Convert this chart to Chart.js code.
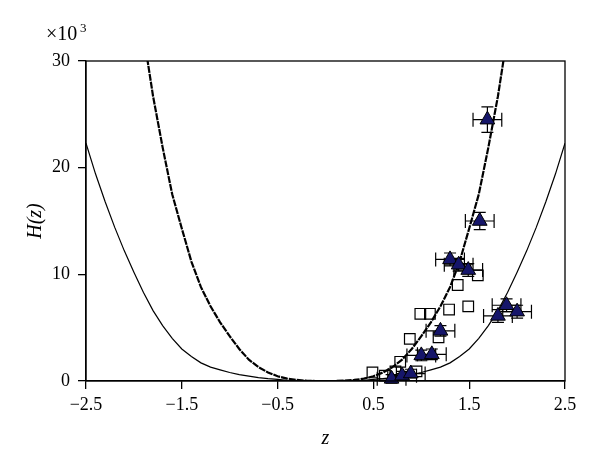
<!DOCTYPE html>
<html>
<head>
<meta charset="utf-8">
<script src="https://cdn.jsdelivr.net/npm/chart.js@4/dist/chart.umd.min.js"></script>
<style>
  html, body { margin: 0; padding: 0; background: #fff; }
</style>
</head>
<body>
<canvas id="c" width="600" height="460"></canvas>
<script>
// tick labels
const xTicks = [-2.5, -1.5, -0.5, 0.5, 1.5, 2.5];
const yTicks = [0, 10, 20, 30];

// outer model curve (thin)
const outerZ = [-2.5, -2.4, -2.3, -2.2, -2.1, -2.0, -1.9, -1.8, -1.7, -1.6, -1.5, -1.4, -1.3, -1.2, -1.1, -1.0, -0.9, -0.8, -0.7, -0.6, -0.5, -0.4, -0.3, -0.2, -0.1, 0.0,
                0.1, 0.2, 0.3, 0.4, 0.5, 0.6, 0.7, 0.8, 0.9, 1.0, 1.1, 1.2, 1.3, 1.4, 1.5, 1.6, 1.7, 1.8, 1.9, 2.0, 2.1, 2.2, 2.3, 2.4, 2.5];
const outerH = [22.3, 19.4, 16.8, 14.4, 12.2, 10.2, 8.3, 6.6, 5.2, 4.0, 3.0, 2.3, 1.7, 1.3, 1.05, 0.8, 0.6, 0.45, 0.32, 0.22, 0.15, 0.05, 0.02, 0, 0, 0,
                0, 0, 0.02, 0.05, 0.15, 0.22, 0.32, 0.45, 0.6, 0.8, 1.05, 1.3, 1.7, 2.3, 3.0, 4.0, 5.2, 6.6, 8.3, 10.2, 12.2, 14.4, 16.8, 19.4, 22.3];

// inner model curve (thick)
const innerZ = [-1.9, -1.8, -1.7, -1.6, -1.5, -1.4, -1.3, -1.2, -1.1, -1.0, -0.9, -0.8, -0.7, -0.6, -0.5, -0.4, -0.3, -0.2, -0.1, 0.0,
                0.1, 0.2, 0.3, 0.4, 0.5, 0.6, 0.7, 0.8, 0.9, 1.0, 1.1, 1.2, 1.3, 1.4, 1.5, 1.6, 1.7, 1.8, 1.9];
const innerH = [32.5, 26.7, 21.9, 17.5, 14.3, 11.2, 8.8, 7.0, 5.5, 4.2, 3.0, 2.0, 1.3, 0.8, 0.45, 0.22, 0.1, 0.03, 0, 0,
                0, 0.03, 0.1, 0.22, 0.45, 0.8, 1.3, 2.0, 3.0, 4.2, 5.5, 7.0, 8.8, 11.2, 14.3, 17.5, 21.9, 26.7, 32.5];

// open squares
const sqZ = [0.49, 0.62, 0.73, 0.78, 0.88, 0.95, 0.99, 1.09, 1.18, 1.29, 1.38, 1.49, 1.59];
const sqH = [0.8, 0.5, 0.9, 1.8, 3.95, 0.9, 6.3, 6.3, 4.1, 6.7, 9.0, 7.0, 9.9];

// filled triangles with error bars
const triZ = [0.69, 0.80, 0.89, 1.00, 1.11, 1.20, 1.30, 1.39, 1.49, 1.61, 1.69, 1.80, 1.89, 2.00];
const triH = [0.2, 0.5, 0.7, 2.4, 2.5, 4.7, 11.4, 10.9, 10.4, 15.0, 24.5, 6.1, 7.1, 6.5];
const triZErr = [0.15, 0.15, 0.15, 0.15, 0.15, 0.15, 0.15, 0.15, 0.15, 0.15, 0.15, 0.15, 0.15, 0.15];
const triHErr = [0.4, 0.4, 0.4, 0.5, 0.5, 0.5, 0.6, 0.6, 0.6, 0.8, 1.2, 0.6, 0.6, 0.6];

const SERIF = 'Liberation Serif, Times New Roman, DejaVu Serif, serif';
const pts = (xs, ys) => xs.map((x, i) => ({ x: x, y: ys[i] }));
const fmt = v => (v < 0 ? '\u2212' : '') + Math.abs(v);

// error bars under the triangles
const errorBars = {
    id: 'errorBars',
    beforeDatasetDraw(chart, args) {
        if (args.index !== 0) return;
        const ctx = chart.ctx, xs = chart.scales.x, ys = chart.scales.y;
        ctx.save();
        ctx.strokeStyle = '#000';
        ctx.lineWidth = 1.2;
        triZ.forEach((z, i) => {
            const px = xs.getPixelForValue(z), py = ys.getPixelForValue(triH[i]);
            const x0 = xs.getPixelForValue(z - triZErr[i]), x1 = xs.getPixelForValue(z + triZErr[i]);
            const y0 = ys.getPixelForValue(triH[i] - triHErr[i]), y1 = ys.getPixelForValue(triH[i] + triHErr[i]);
            ctx.beginPath();
            ctx.moveTo(x0, py); ctx.lineTo(x1, py);
            ctx.moveTo(x0, py - 7); ctx.lineTo(x0, py + 7);
            ctx.moveTo(x1, py - 7); ctx.lineTo(x1, py + 7);
            ctx.moveTo(px, y0); ctx.lineTo(px, y1);
            ctx.moveTo(px - 6, y0); ctx.lineTo(px + 6, y0);
            ctx.moveTo(px - 6, y1); ctx.lineTo(px + 6, y1);
            ctx.stroke();
        });
        ctx.restore();
    }
};

// frame around the plot and the x10^3 factor
const frame = {
    id: 'frame',
    afterDraw(chart) {
        const { ctx, chartArea: a } = chart;
        ctx.save();
        ctx.strokeStyle = '#000';
        ctx.lineWidth = 1.3;
        ctx.strokeRect(a.left, a.top, a.right - a.left, a.bottom - a.top);
        ctx.fillStyle = '#000';
        ctx.textBaseline = 'alphabetic';
        ctx.textAlign = 'left';
        ctx.font = '20px ' + SERIF;
        ctx.fillText('\u00d710', 46, 40);
        ctx.font = '13px ' + SERIF;
        ctx.fillText('3', 80, 32);
        ctx.restore();
    }
};

new Chart(document.getElementById('c'), {
    type: 'scatter',
    data: {
        datasets: [
            {
                data: pts(triZ, triH),
                pointStyle: 'triangle',
                pointRadius: 8.5,
                backgroundColor: '#16166a',
                borderColor: '#000',
                borderWidth: 1,
                clip: false
            },
            {
                data: pts(sqZ, sqH),
                pointStyle: 'rect',
                pointRadius: 7.5,
                backgroundColor: 'rgba(0,0,0,0)',
                borderColor: '#000',
                borderWidth: 1.2,
                clip: false
            },
            {
                data: pts(innerZ, innerH),
                showLine: true,
                pointRadius: 0,
                borderColor: '#000',
                borderWidth: 2.2,
                borderDash: [7, 1]
            },
            {
                data: pts(outerZ, outerH),
                showLine: true,
                pointRadius: 0,
                borderColor: '#000',
                borderWidth: 1.2
            }
        ]
    },
    options: {
        responsive: false,
        animation: false,
        layout: { padding: { left: 0, top: 61, right: 35, bottom: 0 } },
        plugins: { legend: { display: false }, tooltip: { enabled: false } },
        scales: {
            x: {
                type: 'linear',
                min: -2.5,
                max: 2.5,
                afterBuildTicks: s => { s.ticks = xTicks.map(v => ({ value: v })); },
                afterFit: s => { s.height = 79; },
                grid: { drawOnChartArea: false, drawTicks: true, tickLength: 8, color: '#000', lineWidth: 1.3 },
                border: { color: '#000', width: 1.3 },
                ticks: {
                    padding: 5,
                    color: '#000',
                    font: { family: SERIF, size: 18 },
                    callback: v => fmt(v.toFixed(1))
                },
                title: {
                    display: true,
                    text: 'z',
                    color: '#000',
                    font: { family: SERIF, size: 20, style: 'italic' },
                    padding: { top: 0, bottom: 9 }
                }
            },
            y: {
                type: 'linear',
                min: 0,
                max: 30,
                afterBuildTicks: s => { s.ticks = yTicks.map(v => ({ value: v })); },
                afterFit: s => { s.width = 86; },
                grid: { drawOnChartArea: false, drawTicks: true, tickLength: 8, color: '#000', lineWidth: 1.3 },
                border: { color: '#000', width: 1.3 },
                ticks: {
                    padding: 8,
                    color: '#000',
                    font: { family: SERIF, size: 18 },
                    callback: v => fmt(v)
                },
                title: {
                    display: true,
                    text: 'H(z)',
                    color: '#000',
                    font: { family: SERIF, size: 20, style: 'italic' },
                    padding: { top: 24, bottom: 0 }
                }
            }
        }
    },
    plugins: [errorBars, frame]
});
</script>
</body>
</html>
